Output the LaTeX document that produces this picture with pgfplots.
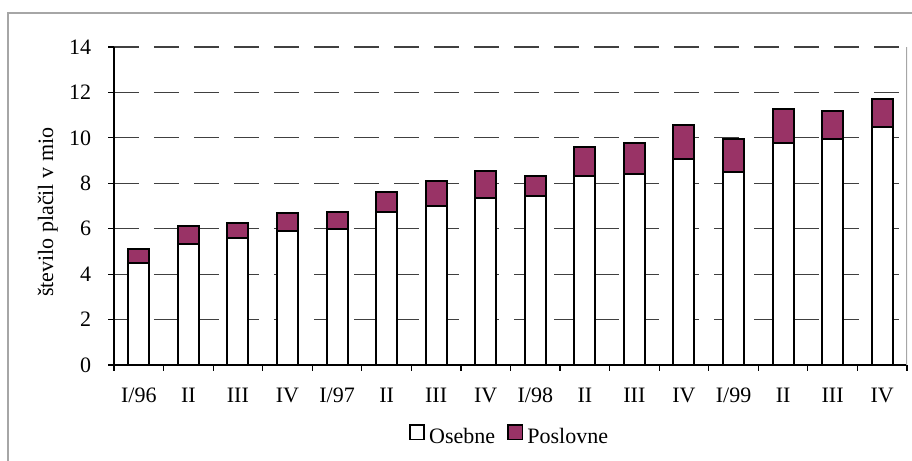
\documentclass[border=0pt]{standalone}
\usepackage{pgfplots}
\pgfplotsset{compat=1.18}
\usepackage{fontspec}
\setmainfont{Liberation Serif}
\definecolor{plum}{RGB}{153,51,102}
\begin{document}
\fontsize{11}{13}\selectfont
\begin{tikzpicture}
\useasboundingbox (0,0) rectangle (456pt,230.5pt);
\draw[gray!70, line width=0.8pt] (4pt,-2pt) -- (4pt,224pt) -- (460pt,224pt);
\begin{axis}[
  at={(57pt,48pt)}, anchor=south west,
  scale only axis, width=396.5pt, height=159pt,
  font=\fontsize{11}{13}\selectfont,
  /pgf/number format/assume math mode=true,
  ybar stacked, bar width=10.5pt,
  xmin=-0.5, xmax=15.5, ymin=0, ymax=14,
  axis x line*=bottom, axis y line*=left,
  axis line style={-, black, line width=0.6pt},
  xtick={-0.5,0.5,...,15.5},
  x tick label as interval,
  xticklabels={I/96,II,III,IV,I/97,II,III,IV,I/98,II,III,IV,I/99,II,III,IV},
  ytick={0,2,...,14},
  tick align=outside, major tick length=2.8pt,
  tick style={black, line width=0.6pt},
  xticklabel style={yshift=-5pt},
  yticklabel style={xshift=-4.8pt},
  ymajorgrids,
  grid style={black!75, line width=0.6pt, dash pattern=on 12.5pt off 7.5pt},
  ylabel={število plačil v mio},
  ylabel style={at={(axis description cs:-0.0835,0.48)}, anchor=center, rotate=0},
  legend columns=2,
  legend style={draw=none, fill=none, at={(axis description cs:0.5,-0.228)}, anchor=center,
    font=\fontsize{11}{13}\selectfont,
    /tikz/every even column/.append style={column sep=4pt},
    nodes={inner xsep=2pt}},
  legend image code/.code={\draw[#1, line width=0.9pt] (0pt,-0.8pt) rectangle (7.2pt,6.6pt);},
]
\addplot[fill=white, draw=black, line width=1pt] coordinates {
(0,4.48) (1,5.32) (2,5.59) (3,5.92) (4,6.00) (5,6.72) (6,6.98) (7,7.35)
(8,7.42) (9,8.33) (10,8.42) (11,9.07) (12,8.51) (13,9.77) (14,9.95) (15,10.48)};
\addplot[fill=plum, draw=black, line width=1pt] coordinates {
(0,0.63) (1,0.78) (2,0.68) (3,0.77) (4,0.72) (5,0.91) (6,1.10) (7,1.17)
(8,0.91) (9,1.25) (10,1.35) (11,1.51) (12,1.44) (13,1.50) (14,1.25) (15,1.25)};
\legend{Osebne, Poslovne}
\draw[gray!70, line width=0.6pt] (rel axis cs:1,0) -- (rel axis cs:1,1);
\end{axis}
\end{tikzpicture}
\end{document}
